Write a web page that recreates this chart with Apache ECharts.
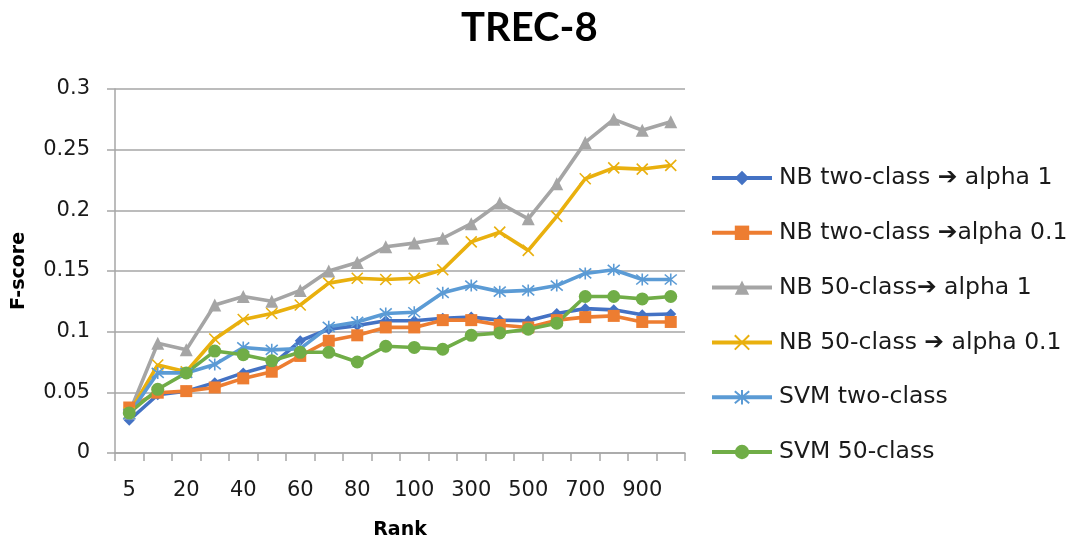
<!DOCTYPE html>
<html>
<head>
<meta charset="utf-8">
<script src="https://cdn.jsdelivr.net/npm/echarts@6/dist/echarts.min.js"></script>
<style>html,body{margin:0;padding:0;background:#fff}#c{width:1092px;height:539px}</style>
</head>
<body>
<div id="c"></div>
<script>
var categories = ['5','10','20','30','40','50','60','70','80','90','100','200','300','400','500','600','700','800','900','1000'];
var yTicks = [0, 0.05, 0.1, 0.15, 0.2, 0.25, 0.3];
var seriesNames = ['NB two-class \u2794 alpha 1','NB two-class \u2794alpha 0.1','NB 50-class\u2794 alpha 1','NB 50-class \u2794 alpha 0.1','SVM two-class','SVM 50-class'];
var nbTwoAlpha1   = [0.027,0.048,0.051,0.058,0.066,0.0725,0.0925,0.102,0.105,0.109,0.109,0.111,0.112,0.1095,0.109,0.115,0.119,0.118,0.114,0.1145];
var nbTwoAlpha01  = [0.0375,0.0497,0.051,0.054,0.0615,0.067,0.080,0.0925,0.097,0.1035,0.1035,0.1095,0.1095,0.1055,0.1035,0.1095,0.112,0.113,0.108,0.108];
var nb50Alpha1    = [0.033,0.0904,0.085,0.122,0.129,0.125,0.134,0.150,0.157,0.170,0.173,0.177,0.189,0.206,0.193,0.222,0.256,0.275,0.266,0.273];
var nb50Alpha01   = [0.033,0.0725,0.067,0.094,0.110,0.115,0.122,0.140,0.144,0.143,0.144,0.151,0.174,0.182,0.167,0.195,0.226,0.235,0.234,0.237];
var svmTwo        = [0.032,0.066,0.066,0.073,0.087,0.085,0.086,0.104,0.108,0.115,0.116,0.132,0.138,0.133,0.134,0.138,0.148,0.151,0.143,0.143];
var svm50         = [0.033,0.0525,0.066,0.084,0.081,0.076,0.083,0.083,0.075,0.088,0.087,0.0855,0.097,0.099,0.102,0.107,0.129,0.129,0.127,0.129];

var colors = ['#4472C4','#ED7D31','#A5A5A5','#E9B00E','#5B9BD5','#70AD47'];
var symbols = ['diamond','rect','triangle','path://M0,0L10,10M10,0L0,10','path://M0,0L10,10M10,0L0,10M5,-1L5,11','circle'];
var sizes = [11,12,13,11,12,13];
var datas = [nbTwoAlpha1,nbTwoAlpha01,nb50Alpha1,nb50Alpha01,svmTwo,svm50];
var FONT = '"DejaVu Sans", sans-serif';
var TFONT = 'Lato, "Open Sans", sans-serif';

var series = datas.map(function(d,i){
  var stroked = (i===3||i===4);
  return {
    name: seriesNames[i], type:'line', data:d,
    symbol: symbols[i], symbolSize: sizes[i], showSymbol:true,
    lineStyle:{color:colors[i], width:3.6},
    itemStyle: stroked ? {color:'rgba(0,0,0,0)', borderColor:colors[i], borderWidth:1.6} : {color:colors[i], borderWidth:0},
    emphasis:{disabled:true}, animation:false
  };
});

var chart = echarts.init(document.getElementById('c'), null, {renderer:'canvas'});
chart.setOption({
  backgroundColor:'#fff',
  animation:false,
  title:{text:'TREC-8', left:456, top:3, textStyle:{fontFamily:TFONT, fontWeight:'bold', fontSize:40, color:'#000'}},
  grid:{left:115, right:407, top:89, bottom:86, containLabel:false, outerBoundsMode:'none'},
  legend:{
    orient:'vertical', left:710, top:166, padding:0, itemGap:30.8, itemWidth:60, itemHeight:18,
    lineStyle:{width:4},
    textStyle:{fontFamily:FONT, fontSize:23.5, color:'#1a1a1a', lineHeight:24, padding:[0,0,0,2]},
    data: seriesNames
  },
  xAxis:{
    type:'category', data:categories, boundaryGap:true,
    name:'Rank', nameLocation:'middle', nameGap:68,
    nameTextStyle:{fontFamily:FONT, fontWeight:'bold', fontSize:19, color:'#000'},
    axisLine:{lineStyle:{color:'#a6a6a6', width:1.5}},
    axisTick:{show:true, interval:0, length:8, lineStyle:{color:'#a6a6a6', width:1.5}},
    axisLabel:{interval:1, margin:27, fontFamily:FONT, fontSize:21, color:'#1a1a1a'}
  },
  yAxis:{
    type:'value', min:yTicks[0], max:yTicks[yTicks.length-1], interval:0.05,
    name:'F-score', nameLocation:'middle', nameGap:86,
    nameTextStyle:{fontFamily:FONT, fontWeight:'bold', fontSize:19, color:'#000'},
    axisLine:{show:true, lineStyle:{color:'#a6a6a6', width:1.5}},
    axisTick:{show:true, length:8, lineStyle:{color:'#a6a6a6', width:1.5}},
    axisLabel:{margin:25, fontFamily:FONT, fontSize:21, color:'#1a1a1a'},
    splitLine:{lineStyle:{color:'#a6a6a6', width:1.5}}
  },
  series: series
});
</script>
</body>
</html>
